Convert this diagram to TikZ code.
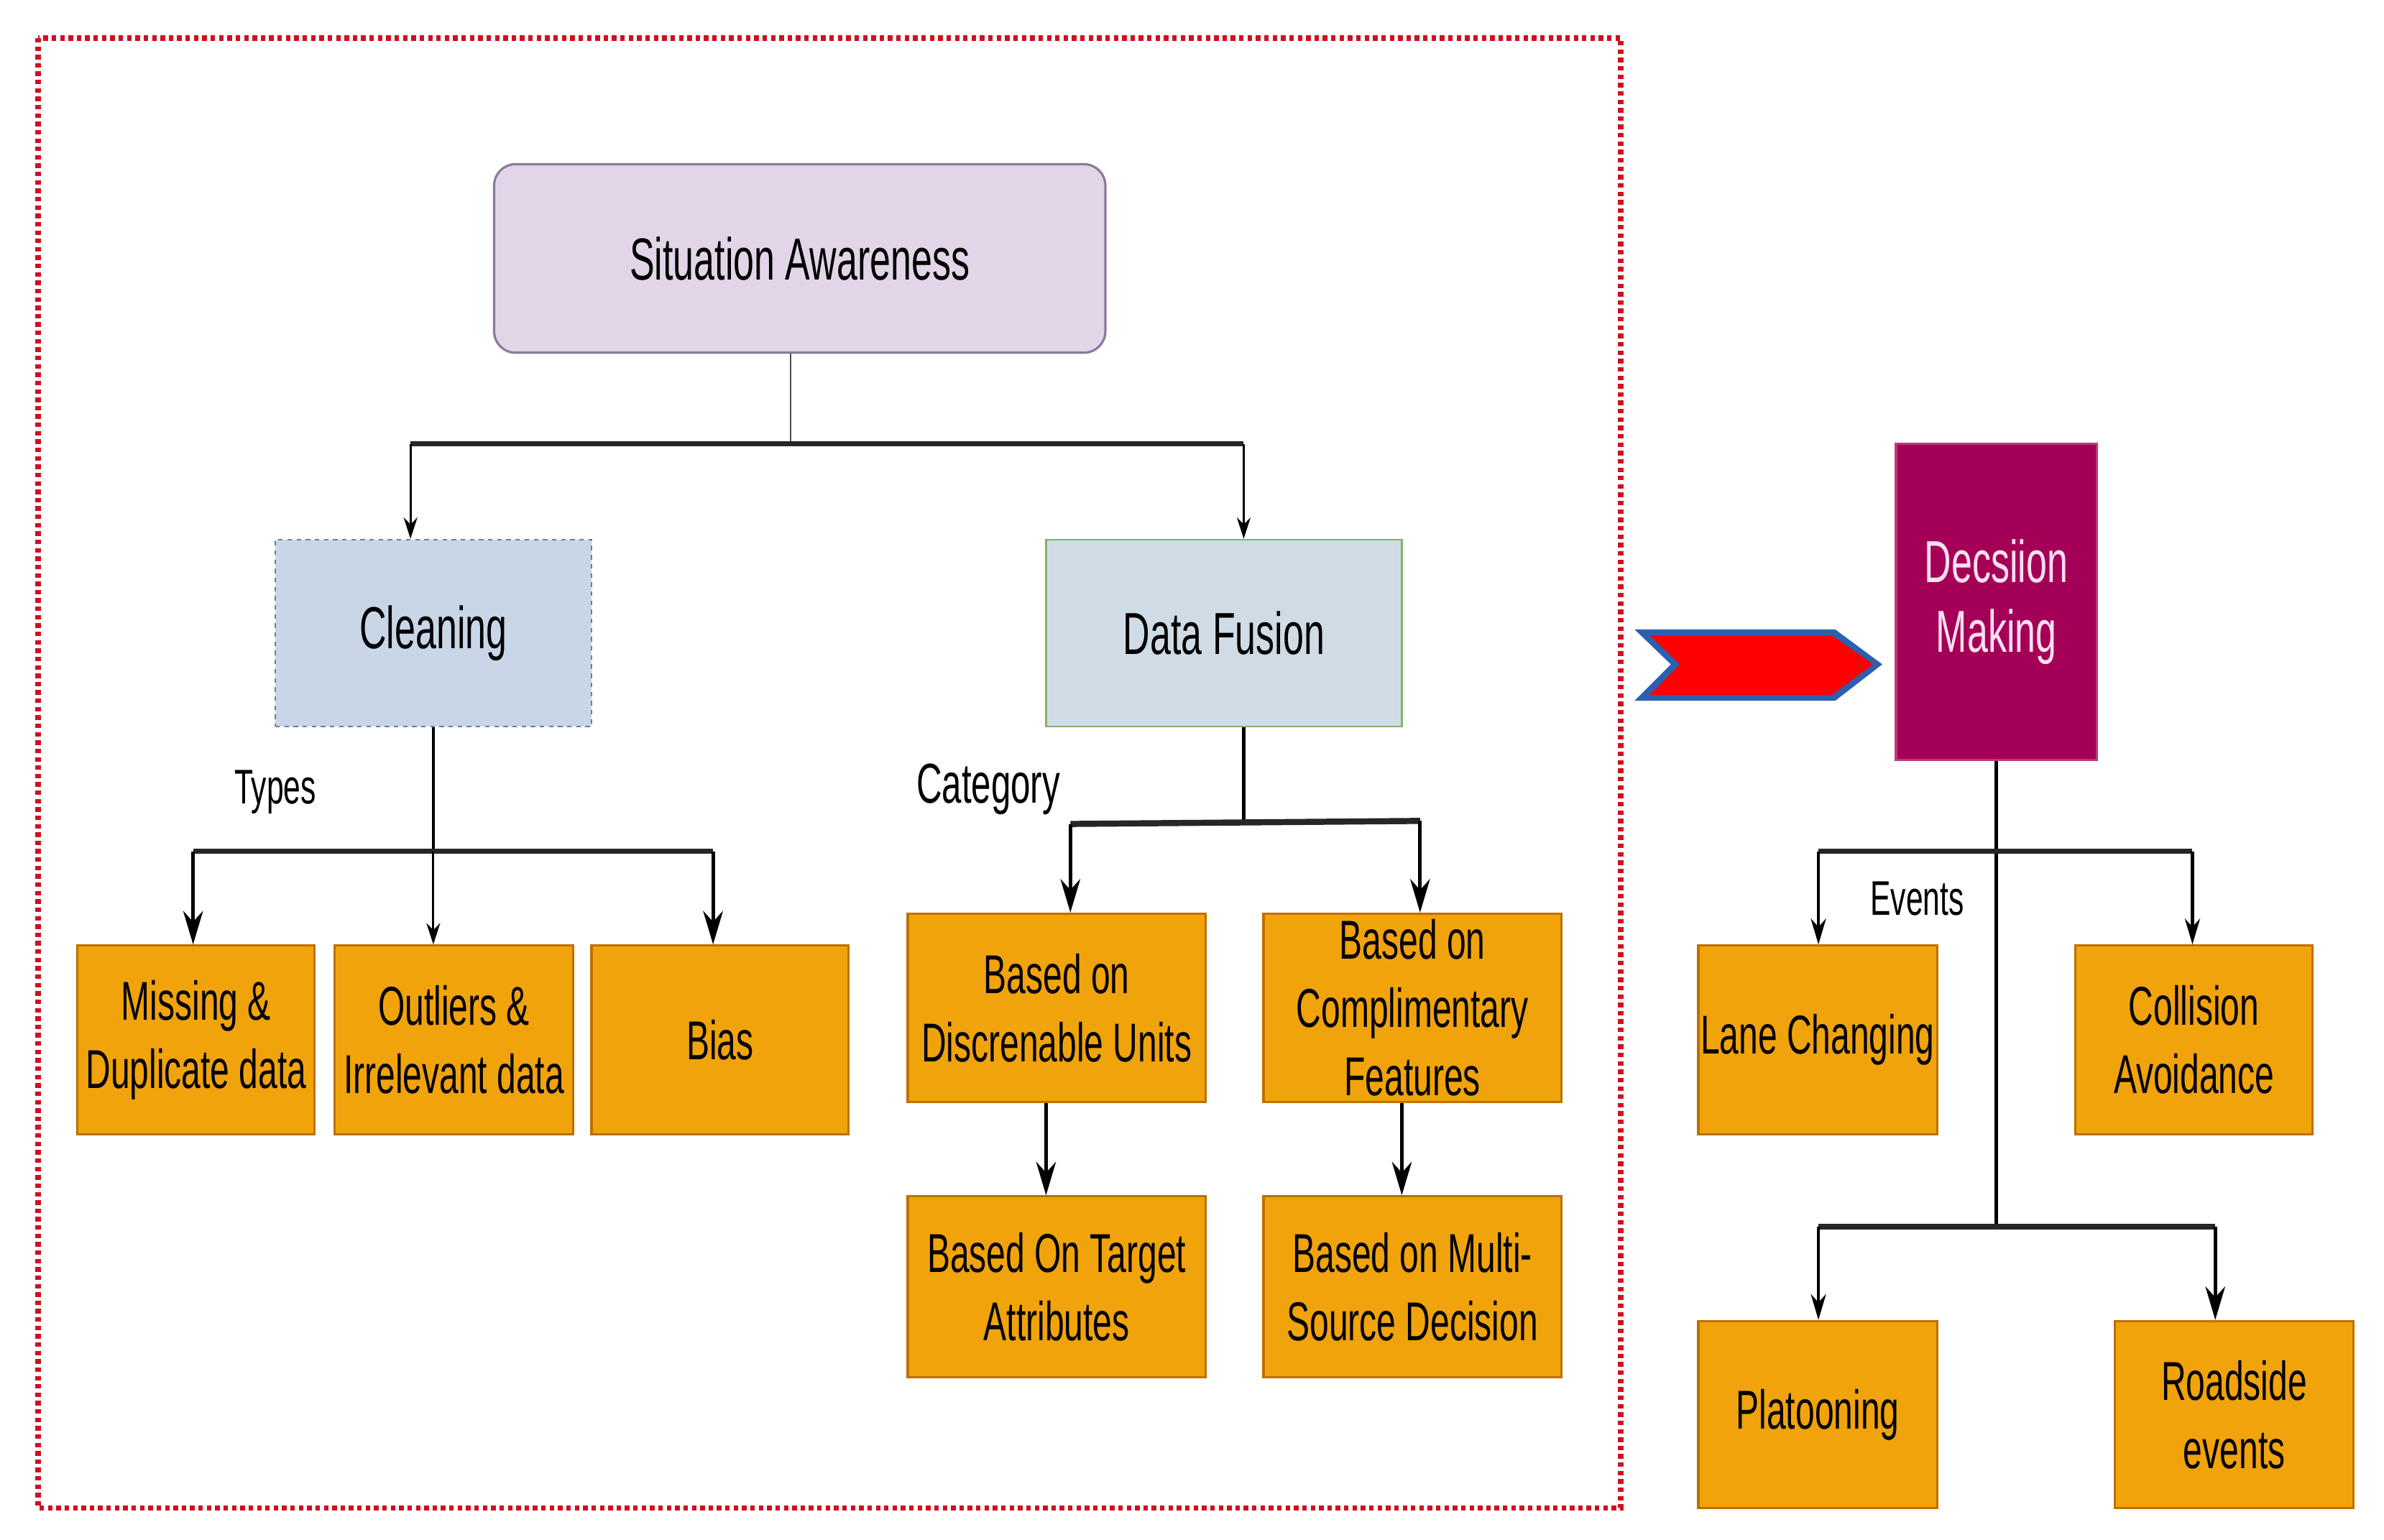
\documentclass[tikz,border=0pt]{standalone}
\usepackage{fontspec}
\setmainfont[FakeStretch=0.63]{Liberation Sans}
\usetikzlibrary{arrows.meta}
\definecolor{orfill}{HTML}{F0A30A}
\definecolor{ordraw}{HTML}{BD7000}
\definecolor{safill}{HTML}{E1D5E7}
\definecolor{sadraw}{HTML}{8A7A9E}
\definecolor{clfill}{HTML}{C9D6E8}
\definecolor{cldraw}{HTML}{6C7F99}
\definecolor{dffill}{HTML}{CFDCE6}
\definecolor{dfdraw}{HTML}{82B366}
\definecolor{dmfill}{HTML}{A50057}
\definecolor{dmtext}{HTML}{FFE0F0}
\definecolor{framered}{HTML}{D01020}
\definecolor{chevblue}{HTML}{2B5FB0}
\tikzset{
  bigtxt/.style={font=\fontsize{39}{47}\selectfont},
  boxtxt/.style={font=\fontsize{36}{45}\selectfont},
  lbl/.style={font=\fontsize{32}{38}\selectfont, inner sep=0pt},
  obox/.style={draw=ordraw, fill=orfill, line width=1.5pt, inner sep=0pt, align=center, boxtxt},
  bar/.style={line width=3.5pt, draw=black!85},
  thinarr/.style={line width=1.5pt, -{Stealth[length=14pt,width=9pt]}},
  midarr/.style={line width=2pt, -{Stealth[length=17pt,width=10pt]}},
  bigarr/.style={line width=2.5pt, -{Stealth[length=22pt,width=13pt]}}
}
\begin{document}
\begin{tikzpicture}[x=1pt,y=-1pt]
\useasboundingbox (0,0) rectangle (1568,1013);
% frame
\draw[framered, line width=3.5pt, dash pattern=on 3pt off 2.5pt] (25,25) rectangle (1066,992);

% top nodes
\node[draw=sadraw, fill=safill, line width=1.5pt, rounded corners=14pt, minimum width=402pt, minimum height=124pt, inner sep=0pt, bigtxt] (sa) at (526,170) {Situation Awareness};
\node[draw=cldraw, fill=clfill, line width=1.2pt, dashed, minimum width=208pt, minimum height=123pt, inner sep=0pt, bigtxt] (cl) at (285,416.5) {Cleaning};
\node[draw=dfdraw, fill=dffill, line width=1.2pt, minimum width=234pt, minimum height=123pt, inner sep=0pt, bigtxt] (df) at (805,416.5) {Data Fusion};

% labels
\node[lbl] (types) at (181,521) {Types};
\node[lbl, font=\fontsize{37}{44}\selectfont] (cat) at (650,519) {Category};
\node[lbl] (ev) at (1261,591) {Events};

% cleaning children
\node[obox, minimum width=156pt, minimum height=124pt] (miss) at (129,684) {Missing \&\\Duplicate data};
\node[obox, minimum width=157pt, minimum height=124pt] (outl) at (298.5,684) {Outliers \&\\Irrelevant data};
\node[obox, minimum width=169pt, minimum height=124pt] (bias) at (473.5,684) {Bias};

% fusion children
\node[obox, minimum width=196pt, minimum height=124pt] (disc) at (695,663) {Based on\\Discrenable Units};
\node[obox, minimum width=196pt, minimum height=124pt] (comp) at (929,663) {Based on\\Complimentary\\Features};
\node[obox, minimum width=196pt, minimum height=119pt] (targ) at (695,846.5) {Based On Target\\Attributes};
\node[obox, minimum width=196pt, minimum height=119pt] (multi) at (929,846.5) {Based on Multi-\\Source Decision};

% decision making
\node[draw=dmfill!70!pink, fill=dmfill, line width=1.5pt, minimum width=132pt, minimum height=208pt, inner sep=0pt, align=center, text=dmtext, font=\fontsize{39}{46}\selectfont] (dm) at (1313,396) {Decsiion\\Making};

\node[obox, minimum width=157pt, minimum height=124pt] (lane) at (1195.5,684) {Lane Changing};
\node[obox, minimum width=156pt, minimum height=124pt] (coll) at (1443,684) {Collision\\Avoidance};
\node[obox, minimum width=157pt, minimum height=123pt] (plat) at (1195.5,930.5) {Platooning};
\node[obox, minimum width=157pt, minimum height=123pt] (road) at (1469.5,930.5) {Roadside\\events};

% chevron
\fill[chevblue] (1075,414) -- (1207,414) -- (1238,437) -- (1207,461) -- (1075,461) -- (1099,437) -- cycle;
\fill[red] (1085,418) -- (1205,418) -- (1232,437) -- (1205,457) -- (1085,457) -- (1105,437) -- cycle;

% connectors: situation awareness
\coordinate (j1) at (520,292);
\coordinate (j1l) at (270,292);
\coordinate (j1r) at (818,292);
\draw[line width=1.2pt, black!70] (sa.south -| j1) -- (j1);
\draw[bar] (j1l) -- (j1r);
\draw[thinarr] (j1l) -- (j1l |- cl.north);
\draw[thinarr] (j1r) -- (j1r |- df.north);

% cleaning
\coordinate (j2) at (285,560);
\coordinate (j2l) at (127,560);
\coordinate (j2r) at (469,560);
\draw[line width=2pt] (cl.south) -- (j2);
\draw[bar] (j2l) -- (j2r);
\draw[bigarr] (j2l) -- (j2l |- miss.north);
\draw[bigarr] (j2r) -- (j2r |- bias.north);
\draw[thinarr] (j2) -- (j2 |- outl.north);

% data fusion
\coordinate (j3) at (818,541);
\coordinate (j3l) at (704,542);
\coordinate (j3r) at (934,540);
\draw[line width=2pt] (df.south -| j3) -- (j3);
\draw[bar, line width=4pt] (j3l) -- (j3) -- (j3r);
\draw[bigarr] (j3l) -- (j3l |- disc.north);
\draw[bigarr] (j3r) -- (j3r |- comp.north);
\draw[bigarr] (disc.south -| 688,0) -- (targ.north -| 688,0);
\draw[bigarr] (comp.south -| 922,0) -- (multi.north -| 922,0);

% decision making
\coordinate (j4) at (1313,560);
\coordinate (j4l) at (1196,560);
\coordinate (j4r) at (1442,560);
\coordinate (j5) at (1313,807);
\coordinate (j5l) at (1196,807);
\coordinate (j5r) at (1457,807);
\draw[line width=2.5pt] (dm.south) -- (j5);
\draw[bar] (j4l) -- (j4r);
\draw[bar] (j5l) -- (j5r);
\draw[midarr] (j4l) -- (j4l |- lane.north);
\draw[midarr] (j4r) -- (j4r |- coll.north);
\draw[midarr] (j5l) -- (j5l |- plat.north);
\draw[bigarr] (j5r) -- (j5r |- road.north);
\end{tikzpicture}
\end{document}
